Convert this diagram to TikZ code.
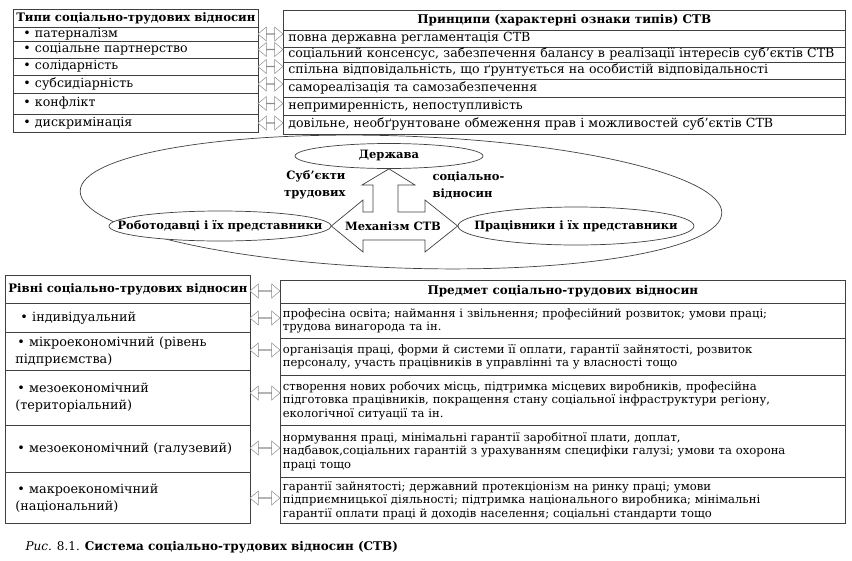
\documentclass[tikz,border=0pt]{standalone}
\usepackage{fontspec}
\setmainfont{DejaVu Serif}
\usetikzlibrary{shapes.geometric, shapes.arrows}

\begin{document}
\begin{tikzpicture}[
  x=1pt, y=-1pt,
  cell/.style={draw=black!75, line width=0.7pt, anchor=north west, inner ysep=0pt, align=left},
  oneline/.style={text height=9pt, text depth=3pt},
  headtext/.style={font=\fontsize{12}{14}\selectfont\bfseries},
  sidehead/.style={font=\fontsize{11.7}{14}\selectfont\bfseries},
  itemtext/.style={font=\fontsize{12.6}{14}\selectfont},
  leveltext/.style={font=\fontsize{12.8}{17}\selectfont},
  subjtext/.style={font=\fontsize{11.6}{13.5}\selectfont},
  twoway/.style={double arrow, draw=black!45, fill=white, line width=0.5pt, inner sep=0pt,
    minimum width=14pt, double arrow head extend=3.5pt, double arrow tip angle=80},
  oval/.style={ellipse, draw=black!75, line width=0.7pt, fill=white, inner sep=0pt,
    font=\fontsize{11.5}{14}\selectfont\bfseries},
  midtext/.style={font=\fontsize{11.5}{17}\selectfont\bfseries}
]
\useasboundingbox (0,0) rectangle (852,560);

%% Types of relations (left) and their principles (right)
\node[cell, oneline, sidehead, inner xsep=2pt, minimum width=245pt, minimum height=18pt] (types) at (13,9) {Типи соціально-трудових відносин};
\foreach \txt/\y/\h [count=\k] in {патерналізм/27/14, соціальне партнерство/41/17, солідарність/58/17,
    субсидіарність/75/18, конфлікт/93/21, дискримінація/114/18} {
  \node[cell, oneline, itemtext, inner xsep=4pt, text width=237pt, minimum height=\h] (type\k) at (13,\y) {\hspace{6pt}\textbullet\ \txt};
}

\node[cell, oneline, headtext, minimum width=562pt, minimum height=20pt] (princ) at (283,10) {Принципи (характерні ознаки типів) СТВ};
\foreach \txt/\y/\h [count=\k] in {
    {повна державна регламентація СТВ}/30/17,
    {соціальний консенсус, забезпечення балансу в реалізації інтересів суб’єктів СТВ}/47/15,
    {спільна відповідальність, що ґрунтується на особистій відповідальності}/62/17,
    {самореалізація та самозабезпечення}/79/18,
    {непримиренність, непоступливість}/97/18,
    {довільне, необґрунтоване обмеження прав і можливостей суб’єктів СТВ}/115/19} {
  \node[cell, oneline, itemtext, inner xsep=5pt, text width=552pt, minimum height=\h] (princ\k) at (283,\y) {\txt};
}

\foreach \y [count=\k] in {34,49.5,66.5,84,103.5,123} {
  \node[twoway, minimum height=25pt] (tp\k) at (270.5,\y) {};
}

%% Subjects and mechanism
\draw[black!75, line width=0.7pt, rotate around={-2:(401,202)}] (401,202) ellipse [x radius=321, y radius=66];
\node[oval, minimum width=188pt, minimum height=25pt] (state) at (389,156) {\makebox[0pt]{Держава}};
\node[oval, minimum width=222pt, minimum height=30pt] (empl) at (220,226) {\makebox[0pt]{Роботодавці і їх представники}};
\node[oval, minimum width=236pt, minimum height=38pt] (work) at (576,226) {\makebox[0pt]{Працівники і їх представники}};

\draw[black!75, line width=0.7pt, fill=white] (empl.east) -- (363,200) -- (363,212) -- (373,212)
  -- (373,185) -- (362,185) -- (state.south) -- (415,185) -- (398,185) -- (398,212)
  -- (425,212) -- (425,200) -- (work.west) -- (425,252) -- (425,240) -- (363,240)
  -- (363,252) -- cycle;
\node[midtext] (mech) at (393,226) {Механізм СТВ};
\node[midtext, anchor=east, align=right] (subjl) at (349,185) {Суб’єкти\\трудових};
\node[midtext, anchor=west, align=left] (subjr) at (429,185) {соціально-\\відносин};

%% Levels (left) and subject matter (right)
\node[cell, oneline, sidehead, inner xsep=2pt, minimum width=245pt, minimum height=28pt] (levels) at (5,275) {Рівні соціально-трудових відносин};
\foreach \txt/\y/\h [count=\k] in {
    {\hspace{5pt}\textbullet\ індивідуальний}/303/29,
    {\hspace{2pt}\textbullet\ мікроекономічний (рівень\\підприємства)}/332/38,
    {\hspace{2pt}\textbullet\ мезоекономічний\\(територіальний)}/370/55,
    {\hspace{2pt}\textbullet\ мезоекономічний (галузевий)}/425/47,
    {\hspace{2pt}\textbullet\ макроекономічний\\(національний)}/472/51} {
  \node[cell, leveltext, inner xsep=10pt, text width=225pt, minimum height=\h] (level\k) at (5,\y) {\txt};
}

\node[cell, oneline, headtext, minimum width=565pt, minimum height=23pt] (subj) at (280,280) {Предмет соціально-трудових відносин};
\foreach \txt/\y/\h [count=\k] in {
    {професіна освіта; наймання і звільнення; професійний розвиток; умови праці;\\трудова винагорода та ін.}/303/35,
    {організація праці, форми й системи її оплати, гарантії зайнятості, розвиток\\персоналу, участь працівників в управлінні та у власності тощо}/338/37,
    {створення нових робочих місць, підтримка місцевих виробників, професійна\\підготовка працівників, покращення стану соціальної інфраструктури регіону,\\екологічної ситуації та ін.}/375/50,
    {нормування праці, мінімальні гарантії заробітної плати, доплат,\\надбавок,соціальних гарантій з урахуванням специфіки галузі; умови та охорона\\праці тощо}/425/52,
    {гарантії зайнятості; державний протекціонізм на ринку праці; умови\\підприємницької діяльності; підтримка національного виробника; мінімальні\\гарантії оплати праці й доходів населення; соціальні стандарти тощо}/477/46} {
  \node[cell, subjtext, inner xsep=2.5pt, text width=560pt, minimum height=\h] (subj\k) at (280,\y) {\txt};
}

\foreach \y [count=\k] in {291,318,350,393,448,498} {
  \node[twoway, minimum height=30pt] (lp\k) at (265,\y) {};
}

\node[anchor=west, font=\fontsize{12}{14}\selectfont] (caption) at (22,547) {\textit{Рис.} 8.1. \textbf{Система соціально-трудових відносин (СТВ)}};
\end{tikzpicture}
\end{document}
